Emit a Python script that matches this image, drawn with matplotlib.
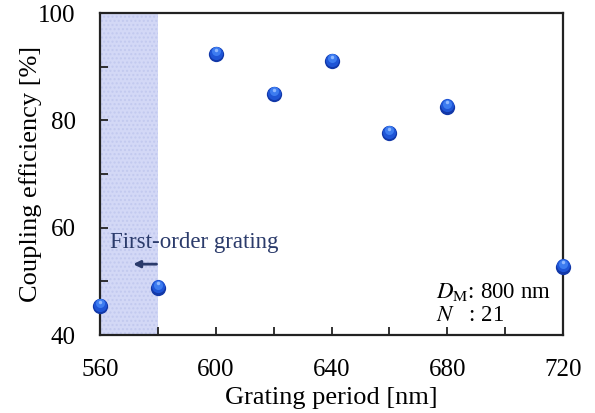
import matplotlib.pyplot as plt
from matplotlib.patches import Rectangle
from matplotlib.ticker import MultipleLocator
from matplotlib.transforms import ScaledTranslation

plt.rcParams['font.family'] = ['Liberation Serif', 'DejaVu Serif']
plt.rcParams['mathtext.fontset'] = 'stix'

period = [560, 580, 600, 620, 640, 660, 680, 720]
efficiency = [45.4, 48.8, 92.3, 84.9, 91.0, 77.6, 82.5, 52.7]

x_ticks = [560, 600, 640, 680, 720]
y_ticks = [40, 60, 80, 100]
first_order = (560, 580)

fig = plt.figure(figsize=(5.95, 4.13), dpi=100)
ax = fig.add_axes([100 / 595, 78 / 413, 463 / 595, 322 / 413])

# shaded first-order range
ax.add_patch(Rectangle((first_order[0], 40), first_order[1] - first_order[0], 60,
                       facecolor='#d3d8f6', edgecolor='none', zorder=0))
ax.add_patch(Rectangle((first_order[0], 40), first_order[1] - first_order[0], 60,
                       facecolor='none', edgecolor='#c2c9ef', hatch='....',
                       linewidth=0, zorder=0))


def shift(dy):
    return ax.transData + ScaledTranslation(0, dy / 100, fig.dpi_scale_trans)


# shaded spheres: dark base, then lighter layers shifted upward
ax.plot(period, efficiency, 'o', ms=11, color='#1238a8', mec='none', clip_on=False, zorder=3)
ax.plot(period, efficiency, 'o', ms=9.5, color='#1f55d6', mec='none', clip_on=False, zorder=4,
        transform=shift(1.5))
ax.plot(period, efficiency, 'o', ms=6.5, color='#3d7cf0', mec='none', clip_on=False, zorder=5,
        transform=shift(3))
ax.plot(period, efficiency, 'o', ms=2.5, color='#8fb8ff', mec='none', clip_on=False, zorder=6,
        transform=shift(4.5))

ax.set_xlim(560, 720)
ax.set_ylim(40, 100)
ax.set_xticks(x_ticks)
ax.set_yticks(y_ticks)
ax.xaxis.set_minor_locator(MultipleLocator(20))
ax.yaxis.set_minor_locator(MultipleLocator(10))
ax.tick_params(which='both', direction='in', labelsize=18, width=1.3, color='#222222')
ax.tick_params(which='both', length=6)
ax.tick_params(axis='x', which='major', pad=17)
ax.tick_params(axis='y', which='major', pad=17.5)
for s in ax.spines.values():
    s.set_linewidth(1.6)
    s.set_color('#222222')

ax.set_xlabel('Grating period [nm]', fontsize=19, labelpad=4.5)
ax.set_ylabel('Coupling efficiency [%]', fontsize=19, labelpad=-3)

ax.text(563.5, 57.3, 'First-order grating', fontsize=16.5, color='#2b3b6b', va='center')
ax.annotate('', xy=(570.5, 53.2), xytext=(580.5, 53.2),
            arrowprops=dict(arrowstyle='-|>', color='#2b3b6b', lw=2, mutation_scale=10))

ax.text(676, 48.0, '$D_{\\mathrm{M}}$: 800 nm', fontsize=16.5, va='center')
ax.text(676, 43.7, '$N$   : 21', fontsize=16.5, va='center')

fig.savefig('out.png', dpi=100)
